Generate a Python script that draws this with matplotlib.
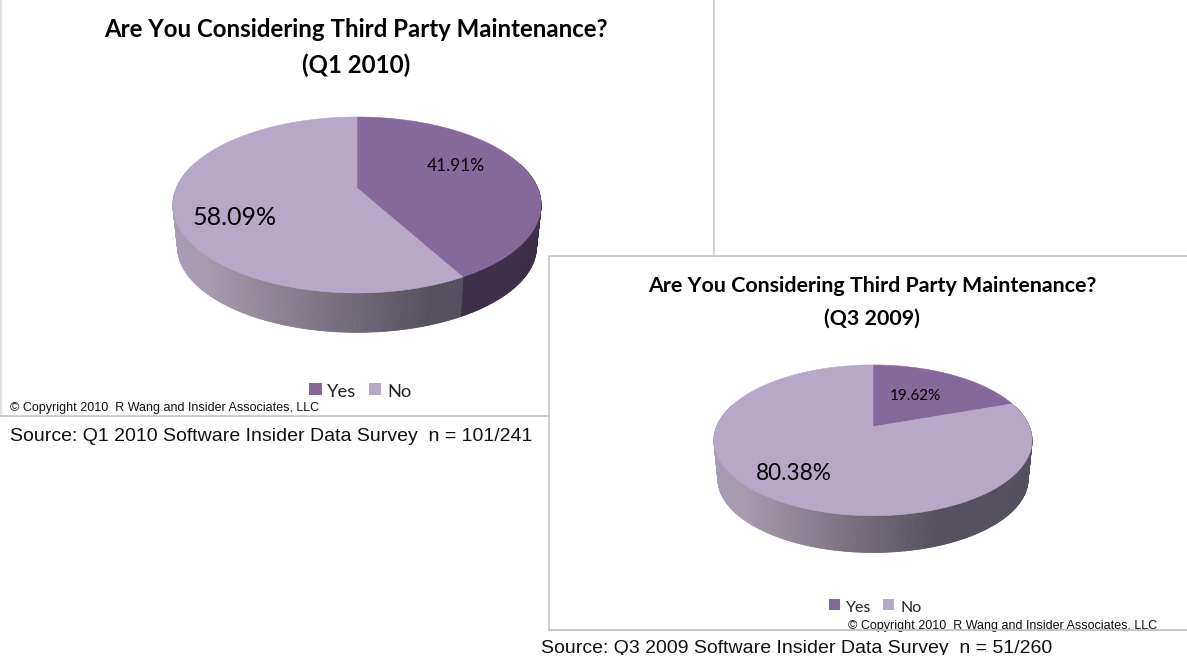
import numpy as np
import matplotlib
matplotlib.use("Agg")
import matplotlib.pyplot as plt
from matplotlib.patches import Rectangle
from matplotlib.colors import to_rgb

categories = ["Yes", "No"]
q1_2010_values = [41.91, 58.09]
q3_2009_values = [19.62, 80.38]
title_text = "Are You Considering Third Party Maintenance?"
q1_period = "(Q1 2010)"
q3_period = "(Q3 2009)"
q1_source = "Source: Q1 2010 Software Insider Data Survey  n = 101/241"
q3_source = "Source: Q3 2009 Software Insider Data Survey  n = 51/260"
copyright_text = "\u00a9 Copyright 2010  R Wang and Insider Associates, LLC"

YES = "#86699b"
NO = "#b6a8c6"
YES_WALL = "#3d2e49"
GRAD = [(0.0, "#a69cb5"), (0.08, "#a99bad"), (0.70, "#55505d"), (1.0, "#55505d")]
LINE = "#c2c2c2"
SANS = "Liberation Sans"
BODY = "Lato"

fig = plt.figure(figsize=(11.87, 6.71), dpi=100, facecolor="white")
ax = fig.add_axes([0, 0, 1, 1])
ax.set_xlim(0, 1187)
ax.set_ylim(671, 0)
ax.axis("off")


def wall_colour(frac):
    xs = [g[0] for g in GRAD]
    cols = np.array([to_rgb(g[1]) for g in GRAD])
    return tuple(np.interp(frac, xs, cols[:, i]) for i in range(3))


def pie3d(values, cx, cy, semi_x, semi_y, k, depth, shrink):
    """Perspective disc: slice angles come from the values, clockwise from 12 o'clock."""
    def project(theta, scale=1.0, drop=0.0):
        u, v = np.sin(theta), np.cos(theta)
        w = 1 + k * v
        return cx + scale * semi_x * u / w, cy - scale * semi_y * v / w + drop

    edges = np.deg2rad(np.concatenate([[0], np.cumsum(values)]) / np.sum(values) * 360)
    left = cx - semi_x / np.sqrt(1 - k ** 2)
    span = 2 * semi_x / np.sqrt(1 - k ** 2)

    grid = np.deg2rad(np.arange(0, 360, 0.75))
    grid = grid[np.cos(grid) < 0.3]
    for t0 in grid[np.argsort(-np.cos(grid))]:
        t1 = t0 + np.deg2rad(0.75)
        xa, ya = project(np.array([t0, t1]))
        xb, yb = project(np.array([t1, t0]), shrink, depth)
        mid = (t0 + t1) / 2
        if edges[0] <= mid < edges[1]:
            col = YES_WALL
        else:
            col = wall_colour((xa.mean() - left) / span)
        ax.fill(np.r_[xa, xb], np.r_[ya, yb], color=col, lw=0.6, zorder=2)

    for i, col in enumerate([YES, NO]):
        t = np.linspace(edges[i], edges[i + 1], 240)
        x, y = project(t)
        ax.fill(np.r_[cx, x], np.r_[cy, y], facecolor=col, edgecolor=col, lw=0.4, zorder=3)


# panel frames
ax.plot([0.7, 0.7], [0, 416], color="#e2e2e2", lw=1.6, zorder=1)
ax.plot([714.3, 714.3], [0, 256], color=LINE, lw=1.1, zorder=1)
ax.plot([0, 549], [416.3, 416.3], color=LINE, lw=1.1, zorder=1)
ax.plot([549.3, 549.3, 1187], [630, 255.7, 255.7], color=LINE, lw=1.1, zorder=1)
ax.plot([549.3, 1187], [630, 630], color=LINE, lw=1.3, zorder=6)

# pies
pie3d(q1_2010_values, 357, 188, 180.6, 84.7, 0.193, 42, 0.975)
pie3d(q3_2009_values, 873, 426.7, 156.4, 72.9, 0.181, 39, 0.975)


def txt(x, y, s, size, family=BODY, weight="normal", ha="left", color="black", z=5):
    ax.text(x, y, s, fontsize=size, family=family, weight=weight, ha=ha, va="baseline",
            color=color, zorder=z)


# titles
txt(356, 36.7, title_text, 17.3, weight="bold", ha="center")
txt(356, 72.7, q1_period, 17.3, weight="bold", ha="center")
txt(872, 292.3, title_text, 15.4, weight="bold", ha="center")
txt(872, 325, q3_period, 15.4, weight="bold", ha="center")

# percentage labels
txt(426.7, 170.7, f"{q1_2010_values[0]:.2f}%", 12.4)
txt(193, 225, f"{q1_2010_values[1]:.2f}%", 18)
txt(890, 400, f"{q3_2009_values[0]:.2f}%", 11)
txt(756, 480, f"{q3_2009_values[1]:.2f}%", 16.3)

# legends
ax.add_patch(Rectangle((309.3, 382.7), 12.4, 12.6, color=YES, lw=0, zorder=4))
ax.add_patch(Rectangle((369, 382.7), 12.4, 12.6, color=NO, lw=0, zorder=4))
txt(326.7, 397, categories[0], 13.2, color="#222222")
txt(387.5, 397, categories[1], 13.2, color="#222222")
ax.add_patch(Rectangle((829, 599), 11, 11, color=YES, lw=0, zorder=4))
ax.add_patch(Rectangle((883, 599), 11, 11, color=NO, lw=0, zorder=4))
txt(845.5, 612, categories[0], 11.5, color="#222222")
txt(900, 612, categories[1], 11.5, color="#222222")

# footers
txt(10, 410.7, copyright_text, 9, family=SANS, color="#111111")
txt(848, 628.7, copyright_text, 9, family=SANS, color="#111111")
txt(10, 440.7, q1_source, 14, family=SANS, color="#111111")
txt(541, 652.7, q3_source, 14, family=SANS, color="#111111")

# the source screenshot ends here and cuts the descenders of the last line
ax.add_patch(Rectangle((0, 654.6), 1187, 17, color="white", lw=0, zorder=7))

fig.savefig("out.png", dpi=100, facecolor="white")
